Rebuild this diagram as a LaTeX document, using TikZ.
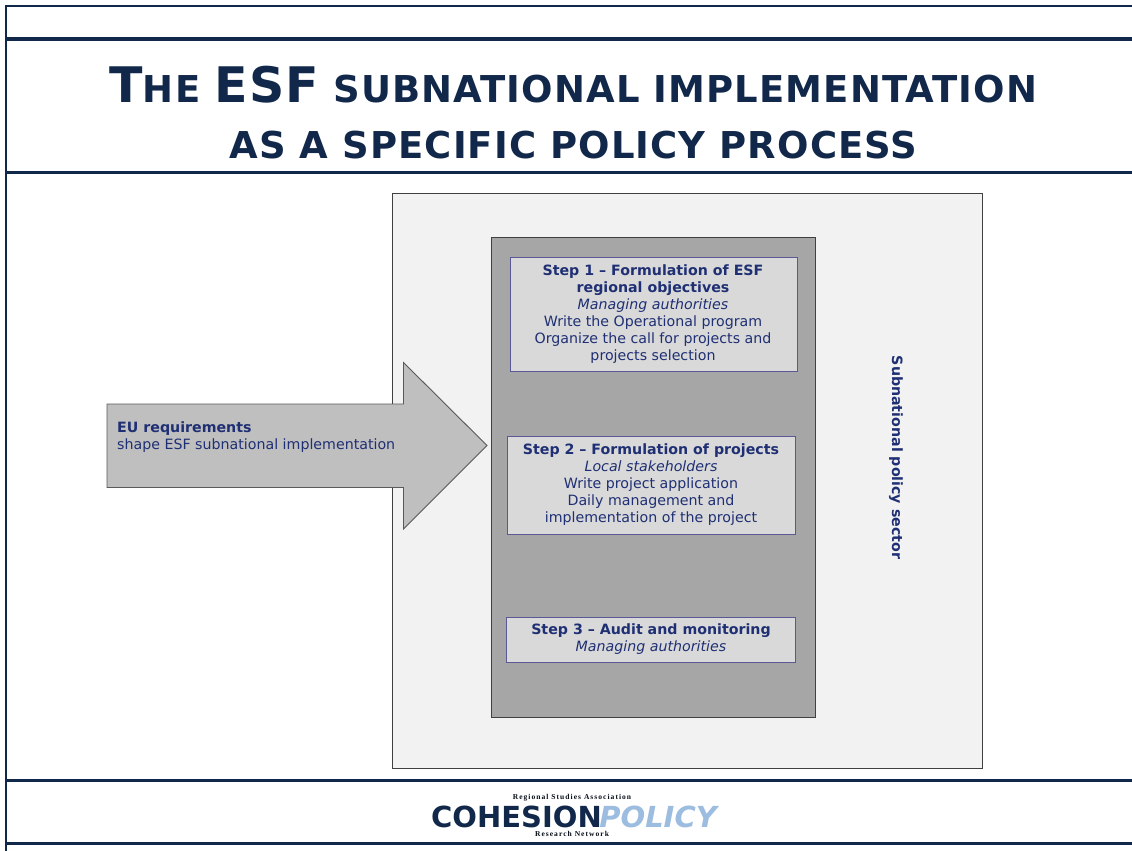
\documentclass[tikz,border=0pt]{standalone}
\usepackage{fontspec}
\setmainfont{DejaVu Sans}
\newfontfamily\titlefont[LetterSpace=3]{DejaVu Sans Bold}
\newfontfamily\logofont{DejaVu Sans Bold}
\newfontfamily\logoit{DejaVu Sans Bold Oblique}
\newfontfamily\smallserif[LetterSpace=14]{Liberation Serif Bold}
\definecolor{navy}{HTML}{12284A}
\definecolor{txtblue}{HTML}{1F2F73}
\definecolor{lightp}{HTML}{F2F2F2}
\definecolor{midp}{HTML}{A6A6A6}
\definecolor{boxg}{HTML}{D9D9D9}
\definecolor{arrowg}{HTML}{BFBFBF}
\definecolor{logolt}{HTML}{9DBDE0}
\tikzset{
 rule/.style={draw=navy,line width=3.6pt},
 thin rule/.style={draw=navy,line width=1.6pt},
 panel/.style={draw=black!75,line width=0.7pt},
 stepbox/.style={draw=black!20!blue!30!gray,line width=0.8pt,fill=boxg},
 boxtext/.style={text=txtblue,font=\fontsize{14.2}{17}\selectfont,align=center,inner sep=0pt},
 titletext/.style={text=navy,inner sep=0pt,anchor=base},
}
\begin{document}
\begin{tikzpicture}[x=1pt,y=-1pt]
\useasboundingbox (0,0) rectangle (1132,851);
\coordinate (tl) at (6,6); \coordinate (tr) at (1132,6); \coordinate (bl) at (6,851);
\coordinate (r1l) at (6,39); \coordinate (r1r) at (1132,39);
\coordinate (r2l) at (6,172.5); \coordinate (r2r) at (1132,172.5);
\coordinate (r3l) at (6,780.5); \coordinate (r3r) at (1132,780.5);
\coordinate (r4l) at (6,843.5); \coordinate (r4r) at (1132,843.5);
\draw[thin rule] (tr)--(tl)--(bl);
\draw[rule] (r1l)--(r1r);
\draw[rule] (r2l)--(r2r);
\draw[rule] (r3l)--(r3r);
\draw[rule] (r4l)--(r4r);
\node[titletext] (t1) at (573.5,102) {\titlefont\fontsize{37}{37}\selectfont {\fontsize{49}{49}\selectfont T}HE {\fontsize{49}{49}\selectfont ESF} SUBNATIONAL IMPLEMENTATION};
\node[titletext] (t2) at (573.5,158) {\titlefont\fontsize{37}{37}\selectfont AS A SPECIFIC POLICY PROCESS};
\draw[panel,fill=lightp] (392.5,193.5) rectangle (982.5,768.5);
\draw[panel,fill=midp] (491.5,237.5) rectangle (815.5,717.5);
\node[stepbox,minimum width=287pt,minimum height=114pt,inner sep=0pt] (s1) at (653.5,314) {};
\node[boxtext] at (653,314) {\textbf{Step 1 -- Formulation of ESF}\\\textbf{regional objectives}\\\textit{Managing authorities}\\Write the Operational program\\Organize the call for projects and\\projects selection};
\node[stepbox,minimum width=288pt,minimum height=98pt,inner sep=0pt] (s2) at (651,485) {};
\node[boxtext] at (651,484.5) {\textbf{Step 2 -- Formulation of projects}\\\textit{Local stakeholders}\\Write project application\\Daily management and\\implementation of the project};
\node[stepbox,minimum width=289pt,minimum height=45pt,inner sep=0pt] (s3) at (651,639.5) {};
\node[boxtext] at (651,639.5) {\textbf{Step 3 -- Audit and monitoring}\\\textit{Managing authorities}};
\draw[draw=black!65,line width=0.9pt,fill=arrowg] (107,404)--(403.5,404)--(403.5,362.5)--(487,445.5)--(403.5,529)--(403.5,487.5)--(107,487.5)--cycle;
\node[boxtext,align=left,anchor=west] (eu) at (117,437) {\textbf{EU requirements}\\shape ESF subnational implementation};
\node[boxtext,rotate=-90] (sector) at (896,457.5) {\textbf{Subnational policy sector}};
\node[inner sep=0pt,anchor=base,text=black!70!navy] (l1) at (572,799) {\smallserif\fontsize{7.5}{8}\selectfont Regional Studies Association};
\node[inner sep=0pt,anchor=base west,text=navy] (l2) at (431,827) {\logofont\fontsize{29}{29}\selectfont COHESION};
\node[inner sep=0pt,anchor=base east,text=logolt] (l3) at (717,827) {\logoit\fontsize{29}{29}\selectfont POLICY};
\node[inner sep=0pt,anchor=base,text=black!70!navy] (l4) at (572,836) {\smallserif\fontsize{7.5}{8}\selectfont Research Network};
\end{tikzpicture}
\end{document}
